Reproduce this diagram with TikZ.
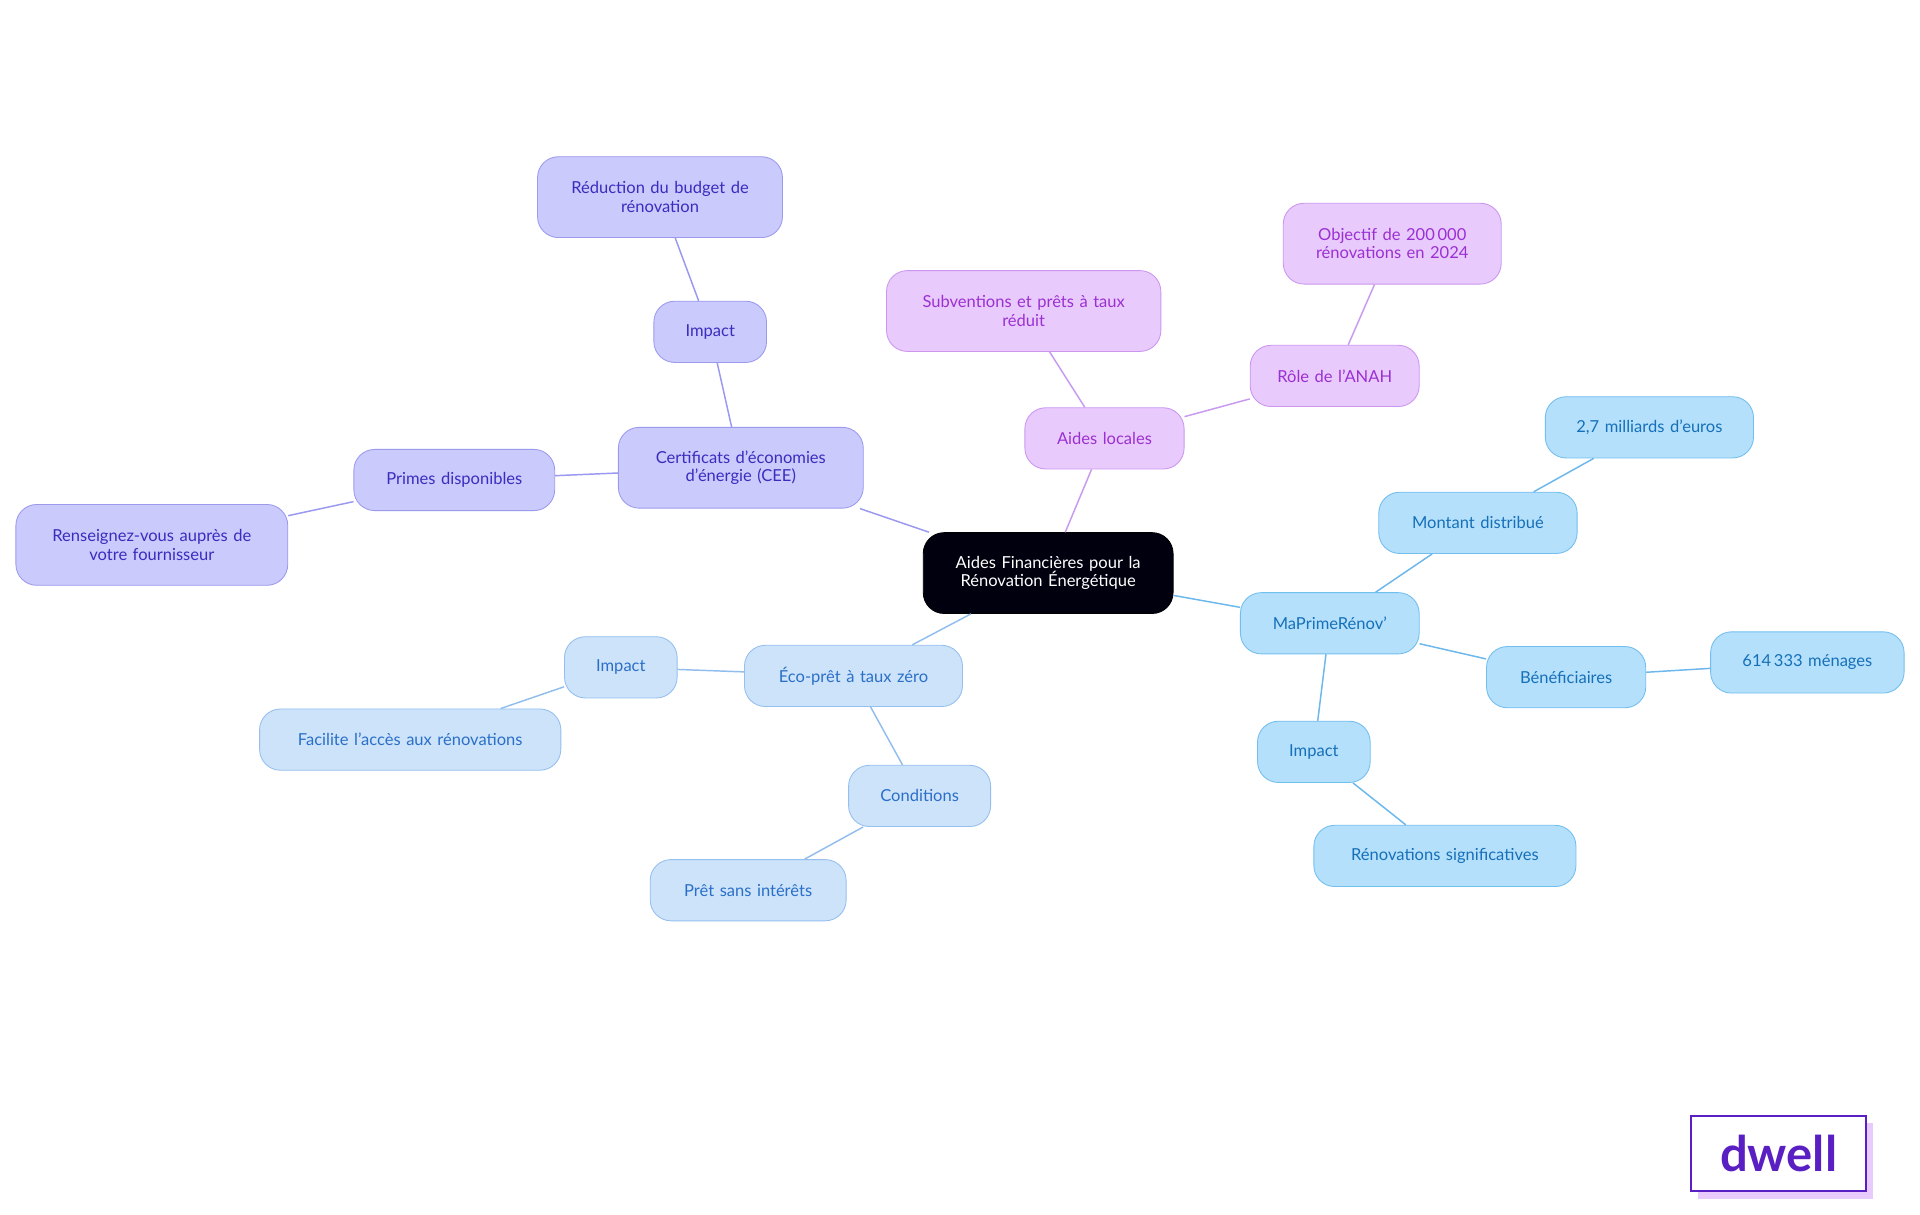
\documentclass[tikz,border=0pt]{standalone}
\usepackage{fontspec}
\setmainfont{Lato}
\hyphenpenalty=10000
\exhyphenpenalty=10000
\begin{document}
\begin{tikzpicture}[x=1pt,y=-1pt,
 base/.style={rounded corners=17pt,draw,line width=0.7pt,align=center,font=\fontsize{13.5}{15}\selectfont,inner sep=2pt},
 cee/.style={base,fill=cCEEf,draw=cCEEd,text=cCEEt},
 loc/.style={base,fill=cLOCf,draw=cLOCd,text=cLOCt},
 mpr/.style={base,fill=cMPRf,draw=cMPRd,text=cMPRt},
 eco/.style={base,fill=cECOf,draw=cECOd,text=cECOt},
 ecee/.style={draw=cCEEe,line width=1.2pt},
 eloc/.style={draw=cLOCe,line width=1.2pt},
 empr/.style={draw=cMPRe,line width=1.2pt},
 eeco/.style={draw=cECOe,line width=1.2pt}]
\definecolor{cCEEf}{HTML}{CACAFC}\definecolor{cCEEd}{HTML}{9C9AEE}\definecolor{cCEEt}{HTML}{3A2DBE}\definecolor{cCEEe}{HTML}{9A98F0}
\definecolor{cLOCf}{HTML}{E9CAFC}\definecolor{cLOCd}{HTML}{CC96F0}\definecolor{cLOCt}{HTML}{9B30D2}\definecolor{cLOCe}{HTML}{C89AF0}
\definecolor{cMPRf}{HTML}{B4E0FC}\definecolor{cMPRd}{HTML}{72BEEE}\definecolor{cMPRt}{HTML}{1670B8}\definecolor{cMPRe}{HTML}{6CB8EC}
\definecolor{cECOf}{HTML}{CDE3FA}\definecolor{cECOd}{HTML}{94BFEE}\definecolor{cECOt}{HTML}{2A6FC8}\definecolor{cECOe}{HTML}{92BEEE}
\definecolor{logoc}{HTML}{5A1FC2}
\useasboundingbox[fill=white] (0,0) rectangle (1568,992);
\newcommand{\bx}[6]{\node[#1,minimum width=#4pt,minimum height=#5pt,text width=#4pt-8pt] (#2) at (#3) {#6};}
\node[base,fill=black!90!blue!60!black,draw=black,text=white,minimum width=204pt,minimum height=66pt,text width=196pt] (root) at (856,468) {Aides Financières pour la\\ Rénovation Énergétique};
\bx{cee}{cee}{605,382}{200}{66}{Certificats d'économies\\ d'énergie (CEE)}
\bx{cee}{ceei}{580,271}{92}{50}{Impact}
\bx{cee}{red}{539,161}{200}{66}{Réduction du budget de\\ rénovation}
\bx{cee}{prim}{371,392}{164}{50}{Primes disponibles}
\bx{cee}{rens}{124,445}{222}{66}{Renseignez-vous auprès de\\ votre fournisseur}
\bx{loc}{loc}{902,358}{130}{50}{Aides locales}
\bx{loc}{sub}{836,254}{224}{66}{Subventions et prêts à taux\\ réduit}
\bx{loc}{role}{1090,307}{138}{50}{Rôle de l'ANAH}
\bx{loc}{obj}{1137,199}{178}{66}{Objectif de 200\,000\\ rénovations en 2024}
\bx{mpr}{mpr}{1086,509}{146}{50}{MaPrimeRénov'}
\bx{mpr}{mont}{1207,427}{162}{50}{Montant distribué}
\bx{mpr}{mil}{1347,349}{170}{50}{2,7 milliards d'euros}
\bx{mpr}{ben}{1279,553}{130}{50}{Bénéficiaires}
\bx{mpr}{men}{1476,541}{158}{50}{614\,333 ménages}
\bx{mpr}{mpri}{1073,614}{92}{50}{Impact}
\bx{mpr}{sig}{1180,699}{214}{50}{Rénovations significatives}
\bx{eco}{eco}{697,552}{178}{50}{Éco-prêt à taux zéro}
\bx{eco}{ecoi}{507,545}{92}{50}{Impact}
\bx{eco}{fac}{335,604}{246}{50}{Facilite l'accès aux rénovations}
\bx{eco}{cond}{751,650}{116}{50}{Conditions}
\bx{eco}{pret}{611,727}{160}{50}{Prêt sans intérêts}
\draw[ecee] (root) -- (cee); \draw[ecee] (cee) -- (ceei); \draw[ecee] (ceei) -- (red);
\draw[ecee] (cee) -- (prim); \draw[ecee] (prim) -- (rens);
\draw[eloc] (root) -- (loc); \draw[eloc] (loc) -- (sub); \draw[eloc] (loc) -- (role); \draw[eloc] (role) -- (obj);
\draw[empr] (root) -- (mpr); \draw[empr] (mpr) -- (mont); \draw[empr] (mont) -- (mil);
\draw[empr] (mpr) -- (ben); \draw[empr] (ben) -- (men); \draw[empr] (mpr) -- (mpri); \draw[empr] (mpri) -- (sig);
\draw[eeco] (root) -- (eco); \draw[eeco] (eco) -- (ecoi); \draw[eeco] (ecoi) -- (fac);
\draw[eeco] (eco) -- (cond); \draw[eeco] (cond) -- (pret);
\fill[cLOCf] (1387,917) rectangle (1530,979);
\node[draw=logoc,line width=1.6pt,fill=white,minimum width=143pt,minimum height=62pt,text=logoc,font=\fontsize{40}{40}\selectfont\bfseries] (logo) at (1452.5,942) {dwell};
\end{tikzpicture}
\end{document}
